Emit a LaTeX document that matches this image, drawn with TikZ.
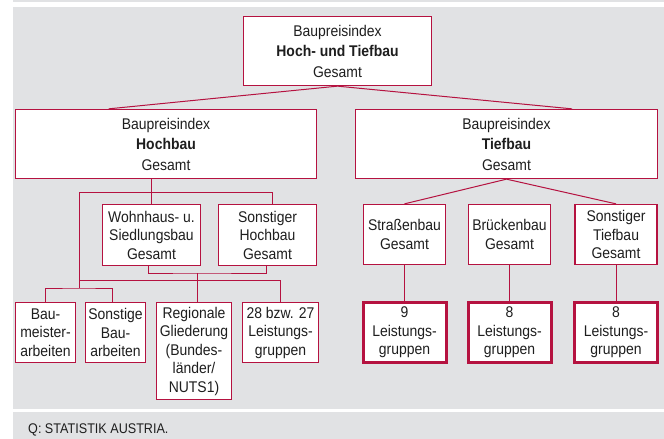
\documentclass[tikz,border=0pt]{standalone}
\usepackage{fontspec}
\setmainfont{Liberation Sans}[FakeStretch=0.9]
\usetikzlibrary{calc}
\definecolor{bpired}{RGB}{181,18,64}
\definecolor{bpigray}{RGB}{225,226,228}
\definecolor{bpitext}{RGB}{30,30,30}
\tikzset{
	idxbox/.style={draw=bpired, line width=1.3pt, fill=white, align=center, inner sep=0pt,
		text=bpitext, font=\fontsize{15.5}{18.5}\selectfont},
	headbox/.style={idxbox, font=\fontsize{15.5}{20.5}\selectfont},
	lgbox/.style={idxbox, line width=3pt},
	link/.style={draw=bpired, line width=1pt},
}

\begin{document}
\begin{tikzpicture}[x=1pt, y=-1pt]
		\useasboundingbox (0,0) rectangle (664,439);
		\fill[bpigray] (13,0) rectangle (664,2);
		\fill[bpigray] (13,7) rectangle (664,409);
		\fill[bpigray] (13,412) rectangle (664,439);

		% Gesamtindex
		\node[headbox, minimum width=188pt, minimum height=69pt] at (337.5, 51) (top) {Baupreisindex\\\textbf{Hoch- und Tiefbau}\\Gesamt};
		\node[headbox, minimum width=301pt, minimum height=69pt] at (166, 144) (hoch) {Baupreisindex\\\textbf{Hochbau}\\Gesamt};
		\node[headbox, minimum width=302pt, minimum height=69pt] at (506.5, 144) (tief) {Baupreisindex\\\textbf{Tiefbau}\\Gesamt};

		\draw[link] (top.south) -- ($(hoch.north west)!0.31!(hoch.north east)$);
		\draw[link] (top.south) -- ($(tief.north west)!0.716!(tief.north east)$);

		% Hochbau
		\node[idxbox, minimum width=98pt, minimum height=61pt] at (151.5, 235) (wohn) {Wohnhaus- u.\\Siedlungsbau\\Gesamt};
		\node[idxbox, minimum width=98pt, minimum height=61pt] at (267.5, 235) (sohb) {Sonstiger\\Hochbau\\Gesamt};
		\node[idxbox, minimum width=60pt, minimum height=60pt] at (45.5, 332.5) (bm) {Bau-\\meister-\\arbeiten};
		\node[idxbox, minimum width=60pt, minimum height=60pt] at (115.5, 332.5) (sba) {Sonstige\\Bau-\\arbeiten};
		\node[idxbox, minimum width=75pt, minimum height=97pt] at (194, 351) (reg) {Regionale\\Gliederung\\(Bundes-\\länder/\\NUTS1)};
		\node[idxbox, minimum width=76pt, minimum height=60pt] at (280.5, 332.5) (lgh) {28 bzw. 27\\Leistungs-\\gruppen};

		\coordinate (ja) at (79, 192);
		\coordinate (jb) at (79, 288);
		\coordinate (jc) at (79, 280);
		\coordinate (jd) at (197, 273);
		\draw[link] (wohn.north) -- (wohn.north |- hoch.south);
		\draw[link] (ja) -| ([xshift=4.5pt]sohb.north);
		\draw[link] (ja) -- (jb);
		\draw[link] (bm.north) |- (jb) -| ([xshift=-3.5pt]sba.north);
		\draw[link] (jc) -| (lgh.north);
		\draw[link] ([xshift=-3.5pt]wohn.south) |- (jd) -| ([xshift=-1.5pt]sohb.south);
		\draw[link] (jd) -- (jd |- reg.north);

		% Tiefbau
		\node[idxbox, minimum width=82pt, minimum height=60pt] at (404.5, 234.5) (str) {Straßenbau\\Gesamt};
		\node[idxbox, minimum width=82pt, minimum height=60pt] at (509.5, 234.5) (bru) {Brückenbau\\Gesamt};
		\node[idxbox, minimum width=82pt, minimum height=60pt] at (616, 234.5) (sotb) {Sonstiger\\Tiefbau\\Gesamt};
		\node[lgbox, minimum width=83pt, minimum height=60pt] at (404.5, 332.5) (lg9) {9\\Leistungs-\\gruppen};
		\node[lgbox, minimum width=83pt, minimum height=60pt] at (509.5, 332.5) (lg8a) {8\\Leistungs-\\gruppen};
		\node[lgbox, minimum width=83pt, minimum height=60pt] at (616, 332.5) (lg8b) {8\\Leistungs-\\gruppen};

		\draw[link] (tief.south) -- (str.north);
		\draw[link] (tief.south) -- (sotb.north);
		\draw[link] (str.south) -- (lg9.north);
		\draw[link] (bru.south) -- (lg8a.north);
		\draw[link] (sotb.south) -- (lg8b.north);

		\node[anchor=base west, text=bpitext, font=\fontsize{14}{16}\selectfont, inner sep=0pt] at (28, 433) (src) {Q: STATISTIK AUSTRIA.};
\end{tikzpicture}
\end{document}
